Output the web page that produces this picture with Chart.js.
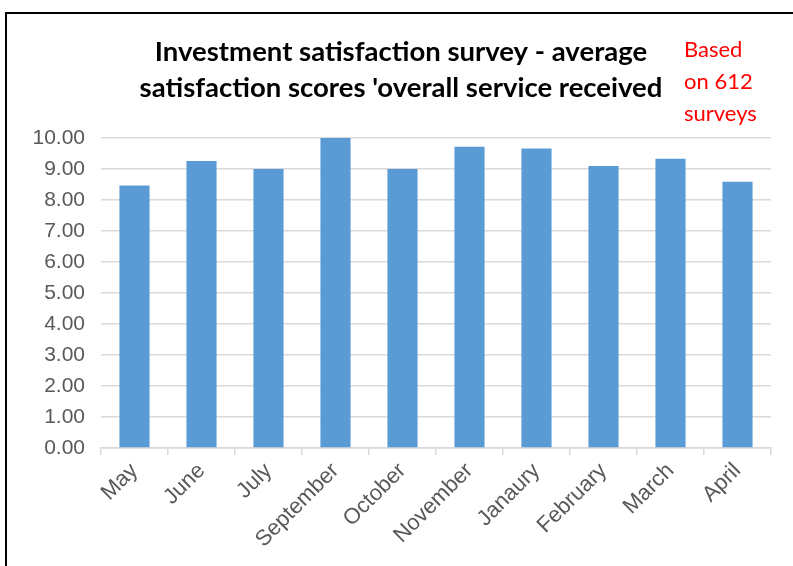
<!DOCTYPE html>
<html lang="en">
<head>
  <meta charset="UTF-8">
  <title>Investment satisfaction survey</title>
  <script src="https://cdn.jsdelivr.net/npm/chart.js"></script>
  <style>
    html, body { margin: 0; padding: 0; background: #fff; overflow: hidden; }
    #frame { position: absolute; left: 5px; top: 12px; width: 900px; height: 700px; border: 2px solid #000; }
    #chart { position: absolute; left: 0; top: 0; }
  </style>
</head>
<body>
  <div id="frame"></div>
  <canvas id="chart" width="793" height="566"></canvas>

  <script>
    const months = ['May', 'June', 'July', 'September', 'October', 'November', 'Janaury', 'February', 'March', 'April'];
    const scores = [8.47, 9.26, 9.0, 10.0, 9.0, 9.72, 9.66, 9.1, 9.33, 8.59];
    const titleLines = ['Investment satisfaction survey - average', "satisfaction scores 'overall service received"];
    const noteLines = ['Based', 'on 612', 'surveys'];

    // title + red note, drawn on top of the chart
    const textPlugin = {
      id: 'texts',
      afterDraw(chart) {
        const ctx = chart.ctx;
        ctx.save();
        // the note's box hides the end of the top gridline
        ctx.fillStyle = '#fff';
        ctx.fillRect(664, 30, 110, 105);

        ctx.fillStyle = '#000';
        ctx.font = 'bold 27.5px Lato';
        ctx.textAlign = 'center';
        ctx.textBaseline = 'middle';
        titleLines.forEach((t, i) => ctx.fillText(t, 401, 52 + i * 36));

        ctx.fillStyle = '#ff0000';
        ctx.font = '22px Lato';
        ctx.textAlign = 'left';
        noteLines.forEach((t, i) => ctx.fillText(t, 684, 50 + i * 32));
        ctx.restore();
      }
    };

    new Chart(document.getElementById('chart'), {
      type: 'bar',
      data: {
        labels: months,
        datasets: [{
          data: scores,
          backgroundColor: '#5b9bd5',
          borderWidth: 0,
          categoryPercentage: 1,
          barPercentage: 0.45
        }]
      },
      options: {
        responsive: false,
        animation: false,
        layout: { padding: { top: 138, left: 0, right: 22, bottom: 0 } },
        plugins: {
          legend: { display: false },
          tooltip: { enabled: false }
        },
        scales: {
          x: {
            afterFit: s => { s.height = 118; },
            grid: { offset: true, drawOnChartArea: false, color: '#d9d9d9', tickLength: 7, lineWidth: 1.5 },
            border: { color: '#d9d9d9', width: 1.5 },
            ticks: {
              color: '#595959',
              font: { family: 'Liberation Sans', size: 22 },
              minRotation: 45,
              maxRotation: 45,
              padding: 3
            }
          },
          y: {
            min: 0,
            max: 10,
            afterFit: s => { s.width = 101; },
            grid: { color: '#d9d9d9', lineWidth: 1.5, drawTicks: false },
            border: { display: false },
            ticks: {
              stepSize: 1,
              color: '#595959',
              font: { family: 'Liberation Sans', size: 21 },
              padding: 16,
              callback: v => v.toFixed(2)
            }
          }
        }
      },
      plugins: [textPlugin]
    });
  </script>
</body>
</html>
